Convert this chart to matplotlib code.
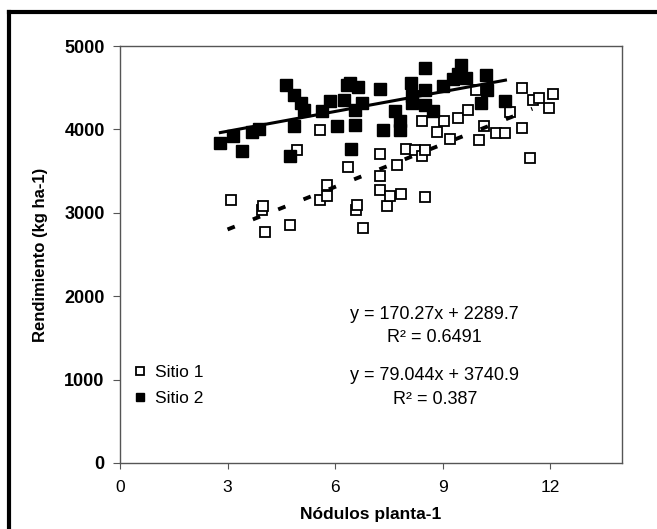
import numpy as np
import matplotlib
matplotlib.use('Agg')
import matplotlib.pyplot as plt
from matplotlib.lines import Line2D

plt.rcParams['font.family'] = ['Liberation Sans', 'DejaVu Sans']

# Sitio 1 (open squares)
x1 = [3.09, 3.96, 4.00, 4.05, 4.75, 4.94, 5.57, 5.57, 5.78, 5.78, 6.36, 6.58,
      6.61, 6.78, 7.26, 7.26, 7.26, 7.44, 7.53, 7.72, 7.84, 7.97, 8.22, 8.41,
      8.43, 8.52, 8.52, 8.85, 9.05, 9.20, 9.44, 9.71, 9.94, 10.02, 10.14, 10.50,
      10.75, 10.87, 11.22, 11.22, 11.43, 11.52, 11.68, 11.97, 12.09]
y1 = [3148, 3028, 3076, 2764, 2848, 3756, 3996, 3156, 3328, 3196, 3548, 3036,
      3088, 2816, 3708, 3444, 3276, 3084, 3196, 3576, 3224, 3768, 3756, 4104,
      3676, 3756, 3184, 3964, 4100, 3888, 4140, 4236, 4468, 3868, 4044, 3956,
      3956, 4204, 4496, 4020, 3656, 4356, 4376, 4256, 4424]

# Sitio 2 (filled squares)
x2 = [2.79, 3.16, 3.39, 3.69, 3.87, 4.63, 4.75, 4.84, 4.84, 5.05, 5.14, 5.64,
      5.87, 6.06, 6.24, 6.34, 6.42, 6.45, 6.56, 6.56, 6.64, 6.75, 7.24, 7.33,
      7.67, 7.80, 7.80, 8.13, 8.15, 8.15, 8.50, 8.50, 8.50, 8.73, 9.02, 9.30,
      9.42, 9.51, 9.65, 10.07, 10.20, 10.23, 10.73]
y2 = [3840, 3924, 3744, 3964, 4004, 4536, 3684, 4416, 4044, 4316, 4236, 4220,
      4340, 4044, 4356, 4536, 4560, 3764, 4056, 4236, 4508, 4316, 4484, 3996,
      4220, 4100, 3996, 4556, 4396, 4316, 4740, 4476, 4288, 4220, 4520, 4604,
      4660, 4776, 4616, 4316, 4656, 4476, 4336]

# trend lines (from the equations shown on the chart)
a1, b1 = 170.27, 2289.7
a2, b2 = 79.044, 3740.9
xr1 = [3.0, 11.5]
xr2 = [2.8, 10.75]

fig = plt.figure(figsize=(6.57, 5.29), dpi=100)
ax = fig.add_axes([0.1826, 0.1248, 0.7641, 0.7882])

ax.plot(x1, y1, 's', ms=7.2, mfc='white', mec='black', mew=1.3, ls='none',
        label='Sitio 1', zorder=3)
ax.plot(x2, y2, 's', ms=8, mfc='black', mec='black', ls='none',
        label='Sitio 2', zorder=3)

ax.plot(xr1, [a1 * v + b1 for v in xr1], color='black', lw=2.8,
        dashes=(2.0, 5.0), solid_capstyle='round', zorder=4)
ax.plot(xr2, [a2 * v + b2 for v in xr2], color='black', lw=2.2, zorder=4)

ax.set_xlim(0, 14)
ax.set_ylim(0, 5000)
ax.set_xticks([0, 3, 6, 9, 12])
ax.set_yticks(range(0, 5001, 1000))
ax.tick_params(axis='x', direction='out', length=4, width=0.8, labelsize=12.5,
               pad=8, color='#555555')
ax.tick_params(axis='y', direction='out', length=5, width=0.8, labelsize=13,
               pad=6, color='#555555')
for lab in ax.get_yticklabels():
    lab.set_fontweight('bold')
for s in ax.spines.values():
    s.set_color('#555555')
    s.set_linewidth(1.0)

ax.set_xlabel('Nódulos planta-1', fontsize=12.5, fontweight='bold', labelpad=9)
ax.set_ylabel('Rendimiento (kg ha-1)', fontsize=12, fontweight='bold',
              labelpad=12)

leg = ax.legend(loc='lower left', bbox_to_anchor=(0.005, 0.12), frameon=False,
                fontsize=12.5, handletextpad=0.3, labelspacing=0.6,
                handlelength=1.2, markerscale=0.8, borderaxespad=0)

ax.text(0.627, 0.355, 'y = 170.27x + 2289.7', transform=ax.transAxes,
        ha='center', va='center', fontsize=13)
ax.text(0.627, 0.30, 'R² = 0.6491', transform=ax.transAxes,
        ha='center', va='center', fontsize=13)
ax.text(0.627, 0.21, 'y = 79.044x + 3740.9', transform=ax.transAxes,
        ha='center', va='center', fontsize=13)
ax.text(0.627, 0.152, 'R² = 0.387', transform=ax.transAxes,
        ha='center', va='center', fontsize=13)

# outer frame (left and top only, as in the scan)
ytop = 1 - 12 / 529
xl = 9 / 657
fig.add_artist(Line2D([xl, 1], [ytop, ytop], color='black', lw=3,
                      transform=fig.transFigure))
fig.add_artist(Line2D([xl, xl], [0, ytop], color='black', lw=3,
                      transform=fig.transFigure))

fig.savefig('out.png', dpi=100)
